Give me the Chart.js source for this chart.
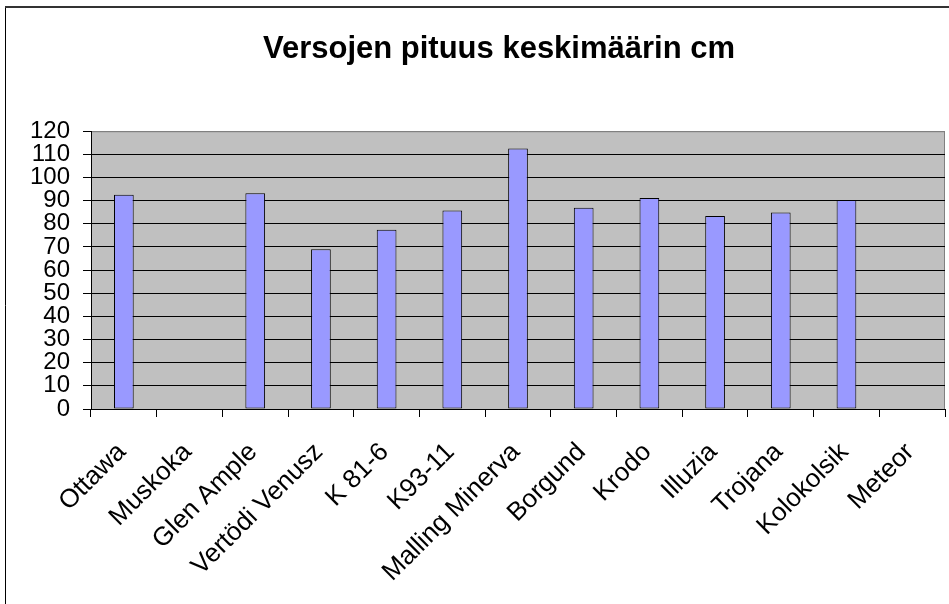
<!DOCTYPE html>
<html>
<head>
<meta charset="utf-8">
<script src="https://cdn.jsdelivr.net/npm/chart.js@4"></script>
<style>
  body { margin: 0; background: #fff; overflow: hidden; }
</style>
</head>
<body>
<canvas id="versot" width="949" height="604"></canvas>
<script>
var lajikkeet = ["Ottawa", "Muskoka", "Glen Ample", "Vertödi Venusz", "K 81-6", "K93-11",
  "Malling Minerva", "Borgund", "Krodo", "Illuzia", "Trojana", "Kolokolsik", "Meteor"];
var pituudet = [92.5, null, 93.2, 69.0, 77.4, 85.7, 112.5, 86.9, 91.1, 83.4, 84.9, 90.3, null];
var yMin = 0, yMax = 120, yStep = 10;

var fontti = "'Liberation Sans', Arial, sans-serif";

// grey plot background, frame and outer chart border
var tausta = {
  id: "tausta",
  beforeDraw: function (chart) {
    var c = chart.ctx, a = chart.chartArea;
    c.save();
    c.fillStyle = "#c0c0c0";
    c.fillRect(a.left, a.top, a.right - a.left, a.bottom - a.top);
    c.strokeStyle = "#808080";
    c.lineWidth = 1;
    c.strokeRect(a.left + 0.5, a.top + 0.5, a.right - a.left - 1, a.bottom - a.top);
    c.strokeStyle = "#000";
    c.beginPath();
    c.moveTo(5.5, 7); c.lineTo(5.5, 604);
    c.stroke();
    c.strokeStyle = "#333";
    c.lineWidth = 2;
    c.beginPath();
    c.moveTo(5, 7); c.lineTo(949, 7);
    c.stroke();
    c.restore();
  }
};

var ctx = document.getElementById("versot").getContext("2d");
var kaavio = new Chart(ctx, {
  type: "bar",
  data: {
    labels: lajikkeet,
    datasets: [
      {
        data: pituudet,
        backgroundColor: "#9999ff",
        borderColor: "#000",
        borderWidth: 1,
        borderSkipped: false,
        categoryPercentage: 1,
        barPercentage: 0.3
      }
    ]
  },
  options: {
    responsive: false,
    animation: false,
    layout: { padding: { left: 53, right: 4, top: 0, bottom: 0 } },
    plugins: {
      legend: { display: false },
      tooltip: { enabled: false },
      title: {
        display: true,
        text: "Versojen pituus keskimäärin cm",
        color: "#000",
        font: { family: fontti, size: 31, weight: "bold" },
        padding: { top: 31, bottom: 63 }
      }
    },
    scales: {
      x: {
        grid: { drawOnChartArea: false, color: "#000", tickLength: 8, offset: true },
        border: { color: "#000" },
        ticks: {
          color: "#000",
          font: { family: fontti, size: 26 },
          maxRotation: 45,
          minRotation: 45,
          autoSkip: false,
          labelOffset: -2,
          padding: 20
        },
        afterFit: function (s) {
          s.height = 195;
          s.paddingLeft = 0;
          s.paddingRight = 0;
        }
      },
      y: {
        min: yMin,
        max: yMax,
        grid: {
          color: function (c) { return c.tick && c.tick.value === yMax ? "#808080" : "#000"; },
          tickColor: "#000",
          tickLength: 8
        },
        border: { color: "#000" },
        ticks: {
          stepSize: yStep,
          autoSkip: false,
          color: "#000",
          font: { family: fontti, size: 24 },
          padding: 13
        },
        afterFit: function (s) {
          s.width = 38;
          // labels reach left of the narrow axis box; do not clip them
          s._computeLabelArea = function () { return undefined; };
        }
      }
    }
  },
  plugins: [tausta]
});
</script>
</body>
</html>
